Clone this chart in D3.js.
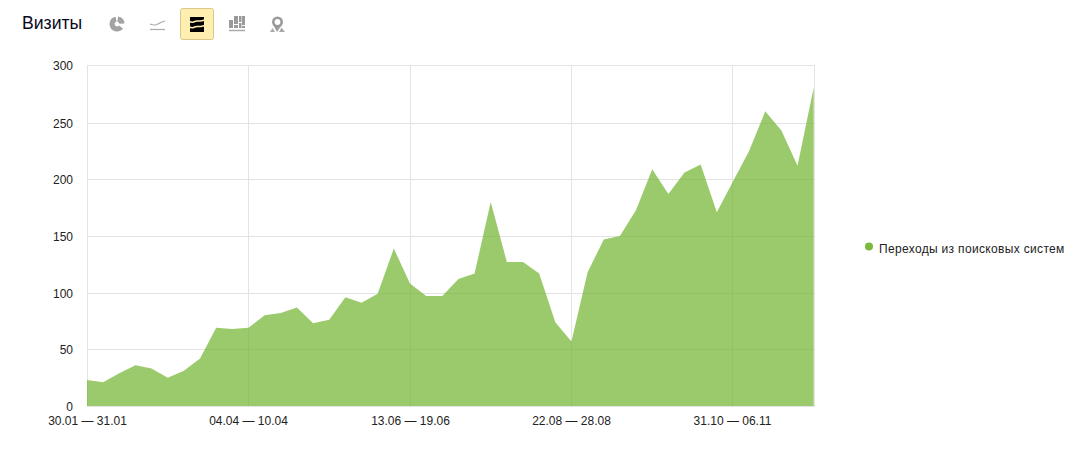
<!DOCTYPE html>
<html>
<head>
<meta charset="utf-8">
<script src="https://cdn.jsdelivr.net/npm/d3@7"></script>
<style>
html, body { margin: 0; background: #fff; }
text { font-family: "Liberation Sans", Arial, sans-serif; }
</style>
</head>
<body>
<svg id="chart" width="1070" height="465"></svg>
<script>
var visits = [23, 21, 29, 36, 33, 25, 31, 42, 69, 68, 69, 80, 82, 87, 73, 76, 96, 91, 99, 139,
    108, 97, 97, 112, 117, 180, 127, 127, 117, 74, 57, 118, 147, 150, 173, 209, 187, 206, 213, 171,
    198, 225, 260, 243, 212, 281];
var tickIndexes = [0, 10, 20, 30, 40];
var tickLabels = ["30.01 — 31.01", "04.04 — 10.04", "13.06 — 19.06", "22.08 — 28.08", "31.10 — 06.11"];
var yTicks = [0, 50, 100, 150, 200, 250, 300];
var seriesName = "Переходы из поисковых систем";
var title = "Визиты";

var svg = d3.select("#chart");
var left = 87, right = 814, top_ = 66, bottom = 406;

var xScale = d3.scaleLinear().domain([0, visits.length - 1]).range([left, right - 0.3]);
// the original's vertical grid runs a pixel short of the area over the full width
var gridScale = d3.scaleLinear().domain([0, visits.length - 1]).range([left, right - 1]);
var yScale = d3.scaleLinear().domain([0, 300]).range([bottom, top_]);

// grid first, the area is translucent and sits on top
var xAxis = d3.axisBottom(gridScale)
    .tickValues(tickIndexes)
    .tickSize(top_ - bottom)
    .tickPadding(0)
    .tickFormat((d, i) => tickLabels[i]);
var yAxis = d3.axisLeft(yScale)
    .tickValues(yTicks)
    .tickSize(left - right)
    .tickPadding(0);

var gx = svg.append("g").attr("transform", "translate(0," + bottom + ")").call(xAxis);
var gy = svg.append("g").attr("transform", "translate(" + left + ",0)").call(yAxis);

gx.select(".domain").remove();
gy.select(".domain").remove();
// keep the hairlines on whole pixels like the original
gx.selectAll(".tick").attr("transform", d => "translate(" + (Math.round(gridScale(d)) + 0.5) + ",0)");
gy.selectAll(".tick").attr("transform", d => "translate(0," + (Math.round(yScale(d)) - (d == 300 ? 0.5 : -0.5)) + ")");
gx.selectAll("line").attr("stroke", "#e3e3e3");
gy.selectAll("line").attr("stroke", "#e3e3e3");
gx.selectAll("text").attr("y", 0).attr("dy", "19px")
    .attr("fill", "#222").style("font-size", "12px");
gy.selectAll("text").attr("x", -14).attr("dy", "4px")
    .attr("fill", "#222").style("font-size", "12px");

// plot frame
svg.append("rect")
    .attr("x", left + 0.5).attr("y", top_ - 0.5)
    .attr("width", right - left).attr("height", bottom - top_ + 1)
    .attr("fill", "none").attr("stroke", "#e3e3e3");

var area = d3.area()
    .x((d, i) => xScale(i))
    .y0(yScale(0))
    .y1(d => yScale(d));

svg.append("path")
    .datum(visits)
    .attr("d", area)
    .attr("fill", "#71b52f")
    .attr("fill-opacity", 0.71);

// legend
svg.append("circle").attr("cx", 869).attr("cy", 246.5).attr("r", 4).attr("fill", "#7ab93c");
svg.append("text").attr("x", 879).attr("y", 253)
    .attr("fill", "#222").style("font-size", "12px").style("letter-spacing", "0.33px").text(seriesName);

// header
svg.append("text").attr("x", 22).attr("y", 29)
    .attr("fill", "#0a0a1e").style("font-size", "17.6px").text(title);

// toolbar icons
var icons = svg.append("g");
var grey = "#9a9a9a";

// pie
var arc = d3.arc();
var pieArcs = [
    {innerRadius: 2.4, outerRadius: 7.5, startAngle: 0.15, endAngle: 1.5},
    {innerRadius: 2.4, outerRadius: 7.5, startAngle: 2.2, endAngle: 6.1}
];
icons.selectAll("path.pie").data(pieArcs).enter().append("path")
    .attr("class", "pie")
    .attr("transform", "translate(117,24)")
    .attr("d", arc)
    .attr("fill", "#a3a3a3");

// line
icons.append("path")
    .attr("d", "M150 24 Q155 26 158 24 T165 21")
    .attr("fill", "none").attr("stroke", "#aaa").attr("stroke-width", 1.2);
icons.append("path").attr("d", "M150 29.5 H165")
    .attr("stroke", "#aaa").attr("stroke-width", 1.2);

// selected button
icons.append("rect")
    .attr("x", 180.5).attr("y", 8.5).attr("width", 33).attr("height", 31).attr("rx", 2)
    .attr("fill", "#feeeb0").attr("stroke", "#d9c98c");
icons.append("rect").attr("x", 190).attr("y", 17).attr("width", 14).attr("height", 15).attr("fill", "#000");
var waves = ["M189 21 q2.5 2 4.5 1 t4 -1 t3 0 t4 -1", "M189 26.5 q2.5 2 4.5 1 t4 -1 t3 0 t4 -1"];
icons.selectAll("path.wave").data(waves).enter().append("path")
    .attr("class", "wave")
    .attr("d", d => d)
    .attr("fill", "none").attr("stroke", "#feeeb0").attr("stroke-width", 1.5);

// stacked bars
var barRects = [[229, 20, 4, 8], [234, 16, 4, 8], [234, 25, 4, 3], [239, 16, 2.5, 6], [242, 16, 3, 9],
    [239, 23, 2.5, 5], [242, 26, 3, 2]];
icons.selectAll("rect.ic").data(barRects).enter().append("rect")
    .attr("class", "ic")
    .attr("x", d => d[0]).attr("y", d => d[1]).attr("width", d => d[2]).attr("height", d => d[3])
    .attr("fill", grey);
icons.append("path").attr("d", "M229 30.5 H245").attr("stroke", "#aaa").attr("stroke-width", 1.5);

// map pin
icons.append("circle").attr("cx", 277.5).attr("cy", 22).attr("r", 4.2)
    .attr("fill", "none").attr("stroke", grey).attr("stroke-width", 2.6);
icons.append("path").attr("d", "M273.5 25 L277 32 L281.5 25 Z").attr("fill", grey);
icons.append("path").attr("d", "M270 32 L272.5 28 L275 32 Z M279 32 L281.5 27.5 L285 32 Z").attr("fill", "#aaa");
</script>
</body>
</html>
